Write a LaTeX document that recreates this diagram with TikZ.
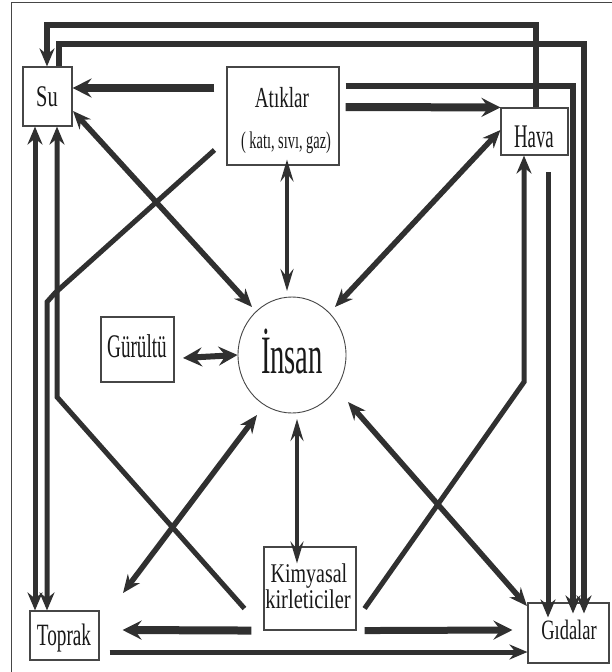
\documentclass[tikz,border=0pt]{standalone}
\usepackage{fontspec}
\setmainfont{Liberation Serif}
\usetikzlibrary{arrows.meta,shapes.geometric}
\definecolor{ink}{RGB}{48,48,48}
\definecolor{boxc}{RGB}{70,70,70}
\newcommand{\lb}[3]{\scalebox{#1}[1]{\fontsize{#2}{#2}\selectfont #3}}
\tikzset{
  bigtip/.tip={Stealth[length=19pt,width=19pt,inset=7pt]},
  midtip/.tip={Stealth[length=18pt,width=15pt,inset=6pt]},
  longtip/.tip={Stealth[length=22pt,width=13pt,inset=8pt]},
}
\begin{document}
\begin{tikzpicture}[x=1pt,y=-1pt,
  box/.style={draw=boxc, line width=1.1pt, inner sep=0pt, rectangle},
  txt/.style={inner sep=0pt, text=black!90, anchor=base},
  ln/.style={draw=ink, line join=miter},
]
\useasboundingbox (0,0) rectangle (612,672);
\fill[white] (0,0) rectangle (612,672);
% frame
\draw[boxc, line width=1pt] (11,672) -- (11,2) -- (612,2);

% boxes
\node[box, minimum width=49pt, minimum height=59pt] (su) at (47.5,96.5) {};
\node[box, minimum width=112pt, minimum height=98pt] (atik) at (283,116) {};
\node[box, minimum width=67pt, minimum height=47pt] (hava) at (534.5,131.5) {};
\node[box, minimum width=73pt, minimum height=65pt] (gur) at (137.5,349.5) {};
\node[draw=boxc, line width=0.9pt, ellipse, inner sep=0pt, minimum width=108pt, minimum height=116pt] (insan) at (292,355) {};
\node[box, minimum width=92pt, minimum height=83pt] (kim) at (310,588.5) {};
\node[box, minimum width=69pt, minimum height=49pt] (top) at (64.5,635.5) {};
\node[box, minimum width=81pt, minimum height=60pt] (gid) at (568.5,633) {};

% texts
\node[txt] (suT) at (47,106) {\lb{0.68}{30}{Su}};
\node[txt] (atikT) at (282,107) {\lb{0.66}{29}{Atıklar}};
\node[txt] (atikT2) at (286,148) {\lb{0.60}{24}{( katı, sıvı, gaz)}};
\node[txt] (havaT) at (534,147) {\lb{0.57}{33}{Hava}};
\node[txt] (gurT) at (137,357) {\lb{0.58}{33}{Gürültü}};
\node[txt] (insanT) at (292,373) {\lb{0.53}{54}{İnsan}};
\node[txt] (kimT) at (309,582) {\lb{0.74}{27}{Kimyasal}};
\node[txt] (kimT2) at (308,608) {\lb{0.76}{27}{kirleticiler}};
\node[txt] (topT) at (64,645) {\lb{0.62}{31}{Toprak}};
\node[txt] (gidT) at (569,639) {\lb{0.66}{28}{Gıdalar}};

% free ends
\coordinate (c1) at (536,25);
\coordinate (c2) at (47,25);
\coordinate (c3) at (59,44);
\coordinate (c4) at (584,44);
\coordinate (c5) at (573,86);
\coordinate (hg) at (548,172);
\coordinate (k1) at (524,382);
\coordinate (k2) at (57,397);
\coordinate (a1) at (55,293);
\coordinate (a2) at (47,302);

% top loops
\draw[ln, line width=6pt, -{midtip}] (hava.north -| c1) -- (c1) -- (c2) -- (su.north -| c2);
\draw[ln, line width=6pt, -{midtip}] (su.north -| c3) -- (c3) -- (c4) -- ([yshift=-11pt]gid.north -| c4);
\draw[ln, line width=6pt, -{midtip}] ([xshift=6pt]atik.east |- c5) -- (c5) -- ([yshift=-11pt]gid.north -| c5);
\draw[ln, line width=5pt, -{midtip}] (hg) -- ([yshift=-15pt]gid.north -| hg);

% from Atiklar
\draw[ln, line width=8pt, -{bigtip}] ([xshift=6pt]atik.east |- 0,107) -- (hava.north west);
\draw[ln, line width=8pt, -{bigtip}] ([xshift=-12pt]atik.west |- 0,88) -- (su.east |- 0,88);
\draw[ln, line width=5pt, -{midtip}] ([xshift=-12pt]atik.west |- 0,150) -- (a1) -- (a2) -- (top.north -| a2);
\draw[ln, line width=4pt, {longtip}-{longtip}] ([yshift=6pt]atik.south -| 287,0) -- (287,291);

% Su links
\draw[ln, line width=5pt, {midtip}-{midtip}] (su.south -| 35,0) -- (top.north -| 35,0);
\draw[ln, line width=5.5pt, {midtip}-{midtip}] (73,111) -- (252,307);

% Hava links
\draw[ln, line width=5.5pt, {midtip}-{midtip}] (hava.west |- 0,130) -- (335,307);

% Gurultu
\draw[ln, line width=6pt, {bigtip}-{bigtip}] (183,358) -- (insan.west);

% Kimyasal links
\draw[ln, line width=4pt, {longtip}-{longtip}] (297,419) -- ([yshift=-17pt]kim.north -| 297,0);
\draw[ln, line width=5pt, -{midtip}] ([xshift=-19pt,yshift=-20pt]kim.west) -- (k2) -- (su.south -| k2);
\draw[ln, line width=5pt, -{midtip}] ([xshift=8pt,yshift=-20pt]kim.east) -- (k1) -- (hava.south -| k1);
\draw[ln, line width=8pt, -{bigtip}] ([xshift=-12pt]kim.south west) -- ([xshift=23pt]top.east |- 0,630);
\draw[ln, line width=7pt, -{bigtip}] ([xshift=8pt]kim.south east) -- ([xshift=-15pt]gid.west |- 0,630);

% Insan diagonals
\draw[ln, line width=5.5pt, {midtip}-{midtip}] (257,415) -- (123,593);
\draw[ln, line width=5.5pt, {midtip}-{midtip}] (348,402) -- (527,606);

% Toprak to Gidalar
\draw[ln, line width=5pt, -{midtip}] ([xshift=10pt]top.east |- 0,652) -- (gid.west |- 0,652);
\end{tikzpicture}
\end{document}
